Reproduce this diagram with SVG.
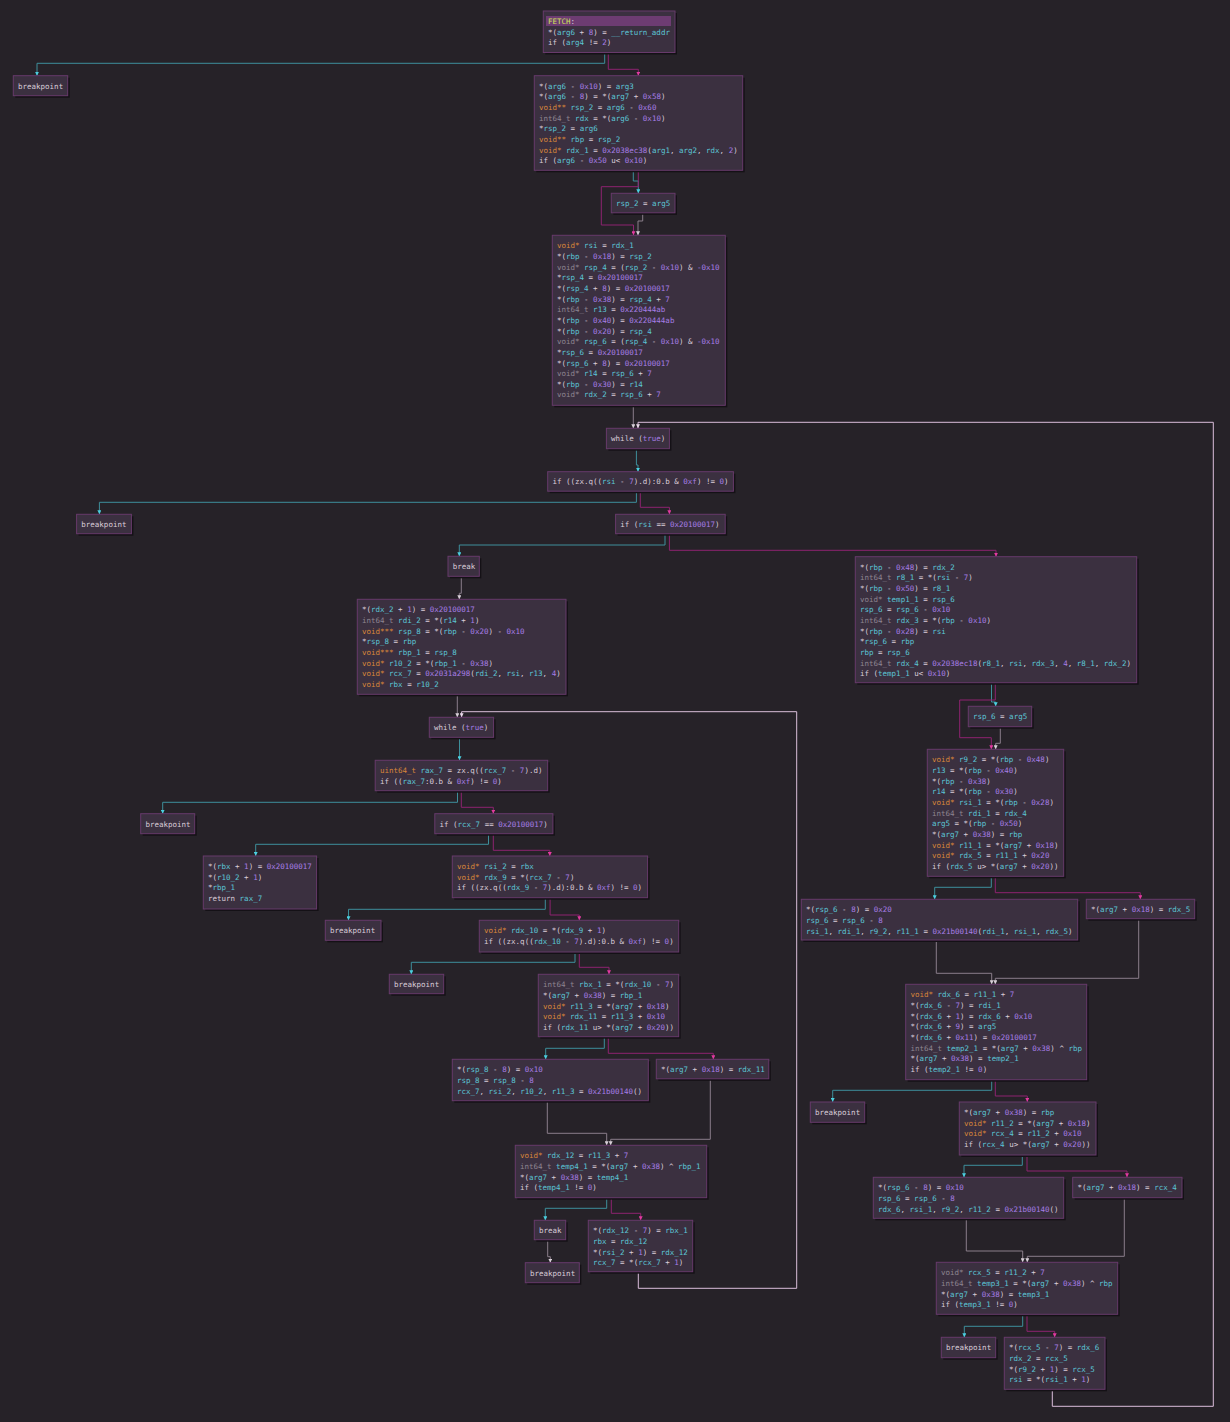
<svg xmlns="http://www.w3.org/2000/svg" width="1230" height="1422" viewBox="0 0 1230 1422">
<defs>
<style>
text{font-family:"DejaVu Sans Mono","Liberation Mono",monospace;font-size:7.5px;fill:#dacdd8;white-space:pre}
.v{fill:#5cc6d6}.n{fill:#a77ee6}.t{fill:#d8863a}.g{fill:#8d8590}.k{fill:#cfe05a}
.bx{fill:#3b3040;stroke:#673a6b;stroke-width:1}
.sh{fill:#141116}
.hd{fill:#6d3c72}
.ec,.em,.eg,.eb{fill:none;stroke-width:1}
.ec{stroke:#3e8f9b;marker-end:url(#ac)}
.em{stroke:#8e2370;marker-end:url(#am)}
.eg{stroke:#8a7e8a;marker-end:url(#ag)}
.eb{stroke:#dbbfdb;marker-end:url(#ab)}
</style>
<marker id="ac" markerUnits="userSpaceOnUse" markerWidth="4" markerHeight="4" viewBox="0 0 4 4" refX="4" refY="2" orient="auto"><path d="M0,0L4,2L0,4z" fill="#4bd0e0"/></marker>
<marker id="am" markerUnits="userSpaceOnUse" markerWidth="4" markerHeight="4" viewBox="0 0 4 4" refX="4" refY="2" orient="auto"><path d="M0,0L4,2L0,4z" fill="#e23aa0"/></marker>
<marker id="ag" markerUnits="userSpaceOnUse" markerWidth="4" markerHeight="4" viewBox="0 0 4 4" refX="4" refY="2" orient="auto"><path d="M0,0L4,2L0,4z" fill="#d8d0d8"/></marker>
<marker id="ab" markerUnits="userSpaceOnUse" markerWidth="4" markerHeight="4" viewBox="0 0 4 4" refX="4" refY="2" orient="auto"><path d="M0,0L4,2L0,4z" fill="#eadaea"/></marker>
</defs>
<rect width="1230" height="1422" fill="#262228"/>

<!-- control-flow edges -->
<g id="edges">
<polyline class="ec" points="604.7,52 604.7,63.3 37,63.3 37,75.7"/>
<polyline class="em" points="608.3,52 608.3,69.3 638.3,69.3 638.3,75.7"/>
<polyline class="ec" points="633.3,170.3 633.3,181 638.3,181 638.3,193.3"/>
<polyline class="em" points="638.3,170.3 638.3,186.7 601.3,186.7 601.3,225 633.5,225 633.5,235.3"/>
<polyline class="eg" points="642.7,212.8 642.7,221 638,221 638,235.3"/>
<polyline class="eg" points="633.3,405.3 633.3,428.3"/>
<polyline class="eb" points="1052.3,1389.3 1052.3,1406.3 1213.3,1406.3 1213.3,422.3 638,422.3 638,428.3"/>
<polyline class="ec" points="636.4,448.7 636.4,465 638,465 638,471.7"/>
<polyline class="ec" points="636.4,490.7 636.4,502.3 99.4,502.3 99.4,514.3"/>
<polyline class="em" points="640.3,490.7 640.3,507.3 669.4,507.3 669.4,514.3"/>
<polyline class="ec" points="665,533.7 665,545 459.3,545 459.3,556.3"/>
<polyline class="em" points="669.4,533.7 669.4,550.3 996,550.3 996,556.7"/>
<polyline class="eg" points="461.3,576.3 461.3,593.3 459.3,593.3 459.3,599.3"/>
<polyline class="ec" points="991.5,682.7 991.5,702 995.7,702 995.7,706.3"/>
<polyline class="em" points="995.3,682.7 995.3,700 959.7,700 959.7,737.7 991.3,737.7 991.3,749.3"/>
<polyline class="eg" points="1000.3,726.7 1000.3,743.3 995.7,743.3 995.7,749.3"/>
<polyline class="eg" points="457.3,694.3 457.3,717.3"/>
<polyline class="eb" points="638.3,1271.7 638.3,1288.3 796.7,1288.3 796.7,711.7 461.6,711.7 461.6,717.3"/>
<polyline class="ec" points="459.5,737.3 459.5,760.3"/>
<polyline class="ec" points="457.5,790.7 457.5,802.3 162.7,802.3 162.7,813.7"/>
<polyline class="em" points="461.3,790.7 461.3,807.3 493.3,807.3 493.3,813.7"/>
<polyline class="ec" points="488.5,833.7 488.5,844.3 255.7,844.3 255.7,856"/>
<polyline class="em" points="493.3,833.7 493.3,850.3 549.8,850.3 549.8,856"/>
<polyline class="ec" points="545.3,897.7 545.3,909.3 348.5,909.3 348.5,920.3"/>
<polyline class="em" points="550.1,897.7 550.1,915 579.3,915 579.3,920.3"/>
<polyline class="ec" points="575,952 575,962.3 411.3,962.3 411.3,974.3"/>
<polyline class="em" points="579.3,952 579.3,967.3 609,967.3 609,974.3"/>
<polyline class="ec" points="604.3,1036.7 604.3,1048.3 545.7,1048.3 545.7,1059.3"/>
<polyline class="em" points="608.3,1036.7 608.3,1053.3 713.3,1053.3 713.3,1059.3"/>
<polyline class="eg" points="547.3,1100.7 547.3,1133.3 606.7,1133.3 606.7,1145.3"/>
<polyline class="eg" points="710.3,1078.8 710.3,1139.3 610.7,1139.3 610.7,1145.3"/>
<polyline class="ec" points="606.7,1197.7 606.7,1208.3 545.3,1208.3 545.3,1220.3"/>
<polyline class="em" points="611.3,1197.7 611.3,1213.3 640.7,1213.3 640.7,1220.3"/>
<polyline class="eg" points="547.7,1239.7 547.7,1256.7 550.3,1256.7 550.3,1262.7"/>
<polyline class="ec" points="991.3,876.3 991.3,887.3 934.7,887.3 934.7,899.3"/>
<polyline class="em" points="995.3,876.3 995.3,892.7 1140.3,892.7 1140.3,899.3"/>
<polyline class="eg" points="936.3,940 936.3,973.3 991.7,973.3 991.7,984.3"/>
<polyline class="eg" points="1138.7,918.7 1138.7,978.3 995.3,978.3 995.3,984.3"/>
<polyline class="ec" points="991.7,1079.7 991.7,1090.3 832.7,1090.3 832.7,1102"/>
<polyline class="em" points="995.3,1079.7 995.3,1096 1027.3,1096 1027.3,1102"/>
<polyline class="ec" points="1022.3,1155 1022.3,1165.3 964,1165.3 964,1177.3"/>
<polyline class="em" points="1027,1155 1027,1171 1127,1171 1127,1177.3"/>
<polyline class="eg" points="966.3,1218.3 966.3,1251 1022.7,1251 1022.7,1262.3"/>
<polyline class="eg" points="1124.3,1197.7 1124.3,1256.3 1027.3,1256.3 1027.3,1262.3"/>
<polyline class="ec" points="1022.7,1314.3 1022.7,1326.3 964.3,1326.3 964.3,1337.3"/>
<polyline class="em" points="1027,1314.3 1027,1331.3 1054.7,1331.3 1054.7,1337.3"/>
</g>

<!-- basic blocks -->
<g id="n-fetch" transform="translate(543.3,11)">
<rect class="sh" x="2" y="2" width="131.7" height="41.5"/><rect class="bx" width="131.7" height="41.5"/>
<rect class="hd" x="2.7" y="5" width="125" height="10"/>
<text x="4.7" y="13.1"><tspan class="k">FETCH</tspan>:</text>
<text x="4.7" y="23.75">*(<tspan class="v">arg6</tspan> + <tspan class="n">8</tspan>) = <tspan class="v">__return_addr</tspan></text>
<text x="4.7" y="34.4">if (<tspan class="v">arg4</tspan> != <tspan class="n">2</tspan>)</text>
</g>

<g id="n-bp0" transform="translate(13.3,75.7)">
<rect class="sh" x="2" y="2" width="54.4" height="20"/><rect class="bx" width="54.4" height="20"/>
<text x="4.7" y="13.1">breakpoint</text>
</g>

<g id="n-entry" transform="translate(534.3,75.7)">
<rect class="sh" x="2" y="2" width="208.4" height="94.6"/><rect class="bx" width="208.4" height="94.6"/>
<text x="4.7" y="13.1">*(<tspan class="v">arg6</tspan> - <tspan class="n">0x10</tspan>) = <tspan class="v">arg3</tspan></text>
<text x="4.7" y="23.75">*(<tspan class="v">arg6</tspan> - <tspan class="n">8</tspan>) = *(<tspan class="v">arg7</tspan> + <tspan class="n">0x58</tspan>)</text>
<text x="4.7" y="34.4"><tspan class="t">void**</tspan> <tspan class="v">rsp_2</tspan> = <tspan class="v">arg6</tspan> - <tspan class="n">0x60</tspan></text>
<text x="4.7" y="45.05"><tspan class="g">int64_t</tspan> <tspan class="v">rdx</tspan> = *(<tspan class="v">arg6</tspan> - <tspan class="n">0x10</tspan>)</text>
<text x="4.7" y="55.7">*<tspan class="v">rsp_2</tspan> = <tspan class="v">arg6</tspan></text>
<text x="4.7" y="66.35"><tspan class="t">void**</tspan> <tspan class="v">rbp</tspan> = <tspan class="v">rsp_2</tspan></text>
<text x="4.7" y="77"><tspan class="t">void*</tspan> <tspan class="v">rdx_1</tspan> = <tspan class="n">0x2038ec38</tspan>(<tspan class="v">arg1</tspan>, <tspan class="v">arg2</tspan>, <tspan class="v">rdx</tspan>, <tspan class="n">2</tspan>)</text>
<text x="4.7" y="87.65">if (<tspan class="v">arg6</tspan> - <tspan class="n">0x50</tspan> u&lt; <tspan class="n">0x10</tspan>)</text>
</g>

<g id="n-rsp2" transform="translate(611.3,193.3)">
<rect class="sh" x="2" y="2" width="63.7" height="19.5"/><rect class="bx" width="63.7" height="19.5"/>
<text x="4.7" y="13.1"><tspan class="v">rsp_2</tspan> = <tspan class="v">arg5</tspan></text>
</g>

<g id="n-setup" transform="translate(552.3,235.3)">
<rect class="sh" x="2" y="2" width="173" height="170"/><rect class="bx" width="173" height="170"/>
<text x="4.7" y="13.1"><tspan class="t">void*</tspan> <tspan class="v">rsi</tspan> = <tspan class="v">rdx_1</tspan></text>
<text x="4.7" y="23.75">*(<tspan class="v">rbp</tspan> - <tspan class="n">0x18</tspan>) = <tspan class="v">rsp_2</tspan></text>
<text x="4.7" y="34.4"><tspan class="g">void*</tspan> <tspan class="v">rsp_4</tspan> = (<tspan class="v">rsp_2</tspan> - <tspan class="n">0x10</tspan>) &amp; <tspan class="n">-0x10</tspan></text>
<text x="4.7" y="45.05">*<tspan class="v">rsp_4</tspan> = <tspan class="n">0x20100017</tspan></text>
<text x="4.7" y="55.7">*(<tspan class="v">rsp_4</tspan> + <tspan class="n">8</tspan>) = <tspan class="n">0x20100017</tspan></text>
<text x="4.7" y="66.35">*(<tspan class="v">rbp</tspan> - <tspan class="n">0x38</tspan>) = <tspan class="v">rsp_4</tspan> + <tspan class="n">7</tspan></text>
<text x="4.7" y="77"><tspan class="g">int64_t</tspan> <tspan class="v">r13</tspan> = <tspan class="n">0x220444ab</tspan></text>
<text x="4.7" y="87.65">*(<tspan class="v">rbp</tspan> - <tspan class="n">0x40</tspan>) = <tspan class="n">0x220444ab</tspan></text>
<text x="4.7" y="98.3">*(<tspan class="v">rbp</tspan> - <tspan class="n">0x20</tspan>) = <tspan class="v">rsp_4</tspan></text>
<text x="4.7" y="108.95"><tspan class="g">void*</tspan> <tspan class="v">rsp_6</tspan> = (<tspan class="v">rsp_4</tspan> - <tspan class="n">0x10</tspan>) &amp; <tspan class="n">-0x10</tspan></text>
<text x="4.7" y="119.6">*<tspan class="v">rsp_6</tspan> = <tspan class="n">0x20100017</tspan></text>
<text x="4.7" y="130.25">*(<tspan class="v">rsp_6</tspan> + <tspan class="n">8</tspan>) = <tspan class="n">0x20100017</tspan></text>
<text x="4.7" y="140.9"><tspan class="g">void*</tspan> <tspan class="v">r14</tspan> = <tspan class="v">rsp_6</tspan> + <tspan class="n">7</tspan></text>
<text x="4.7" y="151.55">*(<tspan class="v">rbp</tspan> - <tspan class="n">0x30</tspan>) = <tspan class="v">r14</tspan></text>
<text x="4.7" y="162.2"><tspan class="g">void*</tspan> <tspan class="v">rdx_2</tspan> = <tspan class="v">rsp_6</tspan> + <tspan class="n">7</tspan></text>
</g>

<g id="n-while1" transform="translate(606.4,428.3)">
<rect class="sh" x="2" y="2" width="63" height="20.4"/><rect class="bx" width="63" height="20.4"/>
<text x="4.7" y="13.1">while (<tspan class="n">true</tspan>)</text>
</g>

<g id="n-chk1" transform="translate(547.7,471.7)">
<rect class="sh" x="2" y="2" width="185.7" height="19.5"/><rect class="bx" width="185.7" height="19.5"/>
<text x="4.7" y="12.6">if ((zx.q((<tspan class="v">rsi</tspan> - <tspan class="n">7</tspan>).d):0.b &amp; <tspan class="n">0xf</tspan>) != <tspan class="n">0</tspan>)</text>
</g>

<g id="n-bp1" transform="translate(76.6,514.3)">
<rect class="sh" x="2" y="2" width="54.8" height="19.4"/><rect class="bx" width="54.8" height="19.4"/>
<text x="4.7" y="12.9">breakpoint</text>
</g>

<g id="n-chk2" transform="translate(615.6,514.3)">
<rect class="sh" x="2" y="2" width="109.6" height="19.4"/><rect class="bx" width="109.6" height="19.4"/>
<text x="4.7" y="12.9">if (<tspan class="v">rsi</tspan> == <tspan class="n">0x20100017</tspan>)</text>
</g>

<g id="n-break1" transform="translate(448,556.3)">
<rect class="sh" x="2" y="2" width="31.3" height="20"/><rect class="bx" width="31.3" height="20"/>
<text x="4.7" y="13.1">break</text>
</g>

<g id="n-grow" transform="translate(855.3,556.7)">
<rect class="sh" x="2" y="2" width="281.4" height="126"/><rect class="bx" width="281.4" height="126"/>
<text x="4.7" y="13.1">*(<tspan class="v">rbp</tspan> - <tspan class="n">0x48</tspan>) = <tspan class="v">rdx_2</tspan></text>
<text x="4.7" y="23.75"><tspan class="g">int64_t</tspan> <tspan class="v">r8_1</tspan> = *(<tspan class="v">rsi</tspan> - <tspan class="n">7</tspan>)</text>
<text x="4.7" y="34.4">*(<tspan class="v">rbp</tspan> - <tspan class="n">0x50</tspan>) = <tspan class="v">r8_1</tspan></text>
<text x="4.7" y="45.05"><tspan class="g">void*</tspan> <tspan class="v">temp1_1</tspan> = <tspan class="v">rsp_6</tspan></text>
<text x="4.7" y="55.7"><tspan class="v">rsp_6</tspan> = <tspan class="v">rsp_6</tspan> - <tspan class="n">0x10</tspan></text>
<text x="4.7" y="66.35"><tspan class="g">int64_t</tspan> <tspan class="v">rdx_3</tspan> = *(<tspan class="v">rbp</tspan> - <tspan class="n">0x10</tspan>)</text>
<text x="4.7" y="77">*(<tspan class="v">rbp</tspan> - <tspan class="n">0x28</tspan>) = <tspan class="v">rsi</tspan></text>
<text x="4.7" y="87.65">*<tspan class="v">rsp_6</tspan> = <tspan class="v">rbp</tspan></text>
<text x="4.7" y="98.3"><tspan class="v">rbp</tspan> = <tspan class="v">rsp_6</tspan></text>
<text x="4.7" y="108.95"><tspan class="g">int64_t</tspan> <tspan class="v">rdx_4</tspan> = <tspan class="n">0x2038ec18</tspan>(<tspan class="v">r8_1</tspan>, <tspan class="v">rsi</tspan>, <tspan class="v">rdx_3</tspan>, <tspan class="n">4</tspan>, <tspan class="v">r8_1</tspan>, <tspan class="v">rdx_2</tspan>)</text>
<text x="4.7" y="119.6">if (<tspan class="v">temp1_1</tspan> u&lt; <tspan class="n">0x10</tspan>)</text>
</g>

<g id="n-found" transform="translate(357.3,599.3)">
<rect class="sh" x="2" y="2" width="208.7" height="95"/><rect class="bx" width="208.7" height="95"/>
<text x="4.7" y="13.1">*(<tspan class="v">rdx_2</tspan> + <tspan class="n">1</tspan>) = <tspan class="n">0x20100017</tspan></text>
<text x="4.7" y="23.75"><tspan class="g">int64_t</tspan> <tspan class="v">rdi_2</tspan> = *(<tspan class="v">r14</tspan> + <tspan class="n">1</tspan>)</text>
<text x="4.7" y="34.4"><tspan class="t">void***</tspan> <tspan class="v">rsp_8</tspan> = *(<tspan class="v">rbp</tspan> - <tspan class="n">0x20</tspan>) - <tspan class="n">0x10</tspan></text>
<text x="4.7" y="45.05">*<tspan class="v">rsp_8</tspan> = <tspan class="v">rbp</tspan></text>
<text x="4.7" y="55.7"><tspan class="t">void***</tspan> <tspan class="v">rbp_1</tspan> = <tspan class="v">rsp_8</tspan></text>
<text x="4.7" y="66.35"><tspan class="t">void*</tspan> <tspan class="v">r10_2</tspan> = *(<tspan class="v">rbp_1</tspan> - <tspan class="n">0x38</tspan>)</text>
<text x="4.7" y="77"><tspan class="t">void*</tspan> <tspan class="v">rcx_7</tspan> = <tspan class="n">0x2031a298</tspan>(<tspan class="v">rdi_2</tspan>, <tspan class="v">rsi</tspan>, <tspan class="v">r13</tspan>, <tspan class="n">4</tspan>)</text>
<text x="4.7" y="87.65"><tspan class="t">void*</tspan> <tspan class="v">rbx</tspan> = <tspan class="v">r10_2</tspan></text>
</g>

<g id="n-rsp6" transform="translate(968.3,706.3)">
<rect class="sh" x="2" y="2" width="63.4" height="20.4"/><rect class="bx" width="63.4" height="20.4"/>
<text x="4.7" y="13.1"><tspan class="v">rsp_6</tspan> = <tspan class="v">arg5</tspan></text>
</g>

<g id="n-while2" transform="translate(429.3,717.3)">
<rect class="sh" x="2" y="2" width="64.3" height="20"/><rect class="bx" width="64.3" height="20"/>
<text x="4.7" y="13.1">while (<tspan class="n">true</tspan>)</text>
</g>

<g id="n-restore" transform="translate(927.3,749.3)">
<rect class="sh" x="2" y="2" width="136.4" height="127"/><rect class="bx" width="136.4" height="127"/>
<text x="4.7" y="13.1"><tspan class="t">void*</tspan> <tspan class="v">r9_2</tspan> = *(<tspan class="v">rbp</tspan> - <tspan class="n">0x48</tspan>)</text>
<text x="4.7" y="23.75"><tspan class="v">r13</tspan> = *(<tspan class="v">rbp</tspan> - <tspan class="n">0x40</tspan>)</text>
<text x="4.7" y="34.4">*(<tspan class="v">rbp</tspan> - <tspan class="n">0x38</tspan>)</text>
<text x="4.7" y="45.05"><tspan class="v">r14</tspan> = *(<tspan class="v">rbp</tspan> - <tspan class="n">0x30</tspan>)</text>
<text x="4.7" y="55.7"><tspan class="t">void*</tspan> <tspan class="v">rsi_1</tspan> = *(<tspan class="v">rbp</tspan> - <tspan class="n">0x28</tspan>)</text>
<text x="4.7" y="66.35"><tspan class="g">int64_t</tspan> <tspan class="v">rdi_1</tspan> = <tspan class="v">rdx_4</tspan></text>
<text x="4.7" y="77"><tspan class="v">arg5</tspan> = *(<tspan class="v">rbp</tspan> - <tspan class="n">0x50</tspan>)</text>
<text x="4.7" y="87.65">*(<tspan class="v">arg7</tspan> + <tspan class="n">0x38</tspan>) = <tspan class="v">rbp</tspan></text>
<text x="4.7" y="98.3"><tspan class="t">void*</tspan> <tspan class="v">r11_1</tspan> = *(<tspan class="v">arg7</tspan> + <tspan class="n">0x18</tspan>)</text>
<text x="4.7" y="108.95"><tspan class="t">void*</tspan> <tspan class="v">rdx_5</tspan> = <tspan class="v">r11_1</tspan> + <tspan class="n">0x20</tspan></text>
<text x="4.7" y="119.6">if (<tspan class="v">rdx_5</tspan> u&gt; *(<tspan class="v">arg7</tspan> + <tspan class="n">0x20</tspan>))</text>
</g>

<g id="n-rax7" transform="translate(375.2,760.3)">
<rect class="sh" x="2" y="2" width="172.5" height="30.4"/><rect class="bx" width="172.5" height="30.4"/>
<text x="4.7" y="13.1"><tspan class="t">uint64_t</tspan> <tspan class="v">rax_7</tspan> = zx.q((<tspan class="v">rcx_7</tspan> - <tspan class="n">7</tspan>).d)</text>
<text x="4.7" y="23.75">if ((<tspan class="v">rax_7</tspan>:0.b &amp; <tspan class="n">0xf</tspan>) != <tspan class="n">0</tspan>)</text>
</g>

<g id="n-bp2" transform="translate(140.7,813.7)">
<rect class="sh" x="2" y="2" width="54" height="20"/><rect class="bx" width="54" height="20"/>
<text x="4.7" y="13.1">breakpoint</text>
</g>

<g id="n-chk3" transform="translate(434.8,813.7)">
<rect class="sh" x="2" y="2" width="118.1" height="20"/><rect class="bx" width="118.1" height="20"/>
<text x="4.7" y="13.1">if (<tspan class="v">rcx_7</tspan> == <tspan class="n">0x20100017</tspan>)</text>
</g>

<g id="n-ret" transform="translate(203.3,856)">
<rect class="sh" x="2" y="2" width="113.3" height="53"/><rect class="bx" width="113.3" height="53"/>
<text x="4.7" y="13.1">*(<tspan class="v">rbx</tspan> + <tspan class="n">1</tspan>) = <tspan class="n">0x20100017</tspan></text>
<text x="4.7" y="23.75">*(<tspan class="v">r10_2</tspan> + <tspan class="n">1</tspan>)</text>
<text x="4.7" y="34.4">*<tspan class="v">rbp_1</tspan></text>
<text x="4.7" y="45.05">return <tspan class="v">rax_7</tspan></text>
</g>

<g id="n-rsi2" transform="translate(452.3,856)">
<rect class="sh" x="2" y="2" width="195.3" height="41.7"/><rect class="bx" width="195.3" height="41.7"/>
<text x="4.7" y="13.1"><tspan class="t">void*</tspan> <tspan class="v">rsi_2</tspan> = <tspan class="v">rbx</tspan></text>
<text x="4.7" y="23.75"><tspan class="t">void*</tspan> <tspan class="v">rdx_9</tspan> = *(<tspan class="v">rcx_7</tspan> - <tspan class="n">7</tspan>)</text>
<text x="4.7" y="34.4">if ((zx.q((<tspan class="v">rdx_9</tspan> - <tspan class="n">7</tspan>).d):0.b &amp; <tspan class="n">0xf</tspan>) != <tspan class="n">0</tspan>)</text>
</g>

<g id="n-call20" transform="translate(801.3,899.3)">
<rect class="sh" x="2" y="2" width="276.4" height="40.7"/><rect class="bx" width="276.4" height="40.7"/>
<text x="4.7" y="13.1">*(<tspan class="v">rsp_6</tspan> - <tspan class="n">8</tspan>) = <tspan class="n">0x20</tspan></text>
<text x="4.7" y="23.75"><tspan class="v">rsp_6</tspan> = <tspan class="v">rsp_6</tspan> - <tspan class="n">8</tspan></text>
<text x="4.7" y="34.4"><tspan class="v">rsi_1</tspan>, <tspan class="v">rdi_1</tspan>, <tspan class="v">r9_2</tspan>, <tspan class="v">r11_1</tspan> = <tspan class="n">0x21b00140</tspan>(<tspan class="v">rdi_1</tspan>, <tspan class="v">rsi_1</tspan>, <tspan class="v">rdx_5</tspan>)</text>
</g>

<g id="n-st5" transform="translate(1086.3,899.3)">
<rect class="sh" x="2" y="2" width="108.4" height="19.4"/><rect class="bx" width="108.4" height="19.4"/>
<text x="4.7" y="12.9">*(<tspan class="v">arg7</tspan> + <tspan class="n">0x18</tspan>) = <tspan class="v">rdx_5</tspan></text>
</g>

<g id="n-bp3" transform="translate(325.3,920.3)">
<rect class="sh" x="2" y="2" width="55.7" height="20"/><rect class="bx" width="55.7" height="20"/>
<text x="4.7" y="13.1">breakpoint</text>
</g>

<g id="n-rdx10" transform="translate(479.3,920.3)">
<rect class="sh" x="2" y="2" width="199.4" height="31.7"/><rect class="bx" width="199.4" height="31.7"/>
<text x="4.7" y="13.1"><tspan class="t">void*</tspan> <tspan class="v">rdx_10</tspan> = *(<tspan class="v">rdx_9</tspan> + <tspan class="n">1</tspan>)</text>
<text x="4.7" y="23.75">if ((zx.q((<tspan class="v">rdx_10</tspan> - <tspan class="n">7</tspan>).d):0.b &amp; <tspan class="n">0xf</tspan>) != <tspan class="n">0</tspan>)</text>
</g>

<g id="n-bp4" transform="translate(389.3,974.3)">
<rect class="sh" x="2" y="2" width="54.4" height="19.4"/><rect class="bx" width="54.4" height="19.4"/>
<text x="4.7" y="12.9">breakpoint</text>
</g>

<g id="n-rbx1" transform="translate(538.3,974.3)">
<rect class="sh" x="2" y="2" width="140.4" height="62.4"/><rect class="bx" width="140.4" height="62.4"/>
<text x="4.7" y="13.1"><tspan class="g">int64_t</tspan> <tspan class="v">rbx_1</tspan> = *(<tspan class="v">rdx_10</tspan> - <tspan class="n">7</tspan>)</text>
<text x="4.7" y="23.75">*(<tspan class="v">arg7</tspan> + <tspan class="n">0x38</tspan>) = <tspan class="v">rbp_1</tspan></text>
<text x="4.7" y="34.4"><tspan class="t">void*</tspan> <tspan class="v">r11_3</tspan> = *(<tspan class="v">arg7</tspan> + <tspan class="n">0x18</tspan>)</text>
<text x="4.7" y="45.05"><tspan class="t">void*</tspan> <tspan class="v">rdx_11</tspan> = <tspan class="v">r11_3</tspan> + <tspan class="n">0x10</tspan></text>
<text x="4.7" y="55.7">if (<tspan class="v">rdx_11</tspan> u&gt; *(<tspan class="v">arg7</tspan> + <tspan class="n">0x20</tspan>))</text>
</g>

<g id="n-rdx6" transform="translate(905.7,984.3)">
<rect class="sh" x="2" y="2" width="181" height="95.4"/><rect class="bx" width="181" height="95.4"/>
<text x="4.7" y="13.1"><tspan class="t">void*</tspan> <tspan class="v">rdx_6</tspan> = <tspan class="v">r11_1</tspan> + <tspan class="n">7</tspan></text>
<text x="4.7" y="23.75">*(<tspan class="v">rdx_6</tspan> - <tspan class="n">7</tspan>) = <tspan class="v">rdi_1</tspan></text>
<text x="4.7" y="34.4">*(<tspan class="v">rdx_6</tspan> + <tspan class="n">1</tspan>) = <tspan class="v">rdx_6</tspan> + <tspan class="n">0x10</tspan></text>
<text x="4.7" y="45.05">*(<tspan class="v">rdx_6</tspan> + <tspan class="n">9</tspan>) = <tspan class="v">arg5</tspan></text>
<text x="4.7" y="55.7">*(<tspan class="v">rdx_6</tspan> + <tspan class="n">0x11</tspan>) = <tspan class="n">0x20100017</tspan></text>
<text x="4.7" y="66.35"><tspan class="g">int64_t</tspan> <tspan class="v">temp2_1</tspan> = *(<tspan class="v">arg7</tspan> + <tspan class="n">0x38</tspan>) ^ <tspan class="v">rbp</tspan></text>
<text x="4.7" y="77">*(<tspan class="v">arg7</tspan> + <tspan class="n">0x38</tspan>) = <tspan class="v">temp2_1</tspan></text>
<text x="4.7" y="87.65">if (<tspan class="v">temp2_1</tspan> != <tspan class="n">0</tspan>)</text>
</g>

<g id="n-call10a" transform="translate(452.3,1059.3)">
<rect class="sh" x="2" y="2" width="196" height="41.4"/><rect class="bx" width="196" height="41.4"/>
<text x="4.7" y="13.1">*(<tspan class="v">rsp_8</tspan> - <tspan class="n">8</tspan>) = <tspan class="n">0x10</tspan></text>
<text x="4.7" y="23.75"><tspan class="v">rsp_8</tspan> = <tspan class="v">rsp_8</tspan> - <tspan class="n">8</tspan></text>
<text x="4.7" y="34.4"><tspan class="v">rcx_7</tspan>, <tspan class="v">rsi_2</tspan>, <tspan class="v">r10_2</tspan>, <tspan class="v">r11_3</tspan> = <tspan class="n">0x21b00140</tspan>()</text>
</g>

<g id="n-st11" transform="translate(656.3,1059.3)">
<rect class="sh" x="2" y="2" width="112.5" height="19.5"/><rect class="bx" width="112.5" height="19.5"/>
<text x="4.7" y="12.9">*(<tspan class="v">arg7</tspan> + <tspan class="n">0x18</tspan>) = <tspan class="v">rdx_11</tspan></text>
</g>

<g id="n-bp5" transform="translate(810.3,1102)">
<rect class="sh" x="2" y="2" width="54.4" height="20.3"/><rect class="bx" width="54.4" height="20.3"/>
<text x="4.7" y="13.1">breakpoint</text>
</g>

<g id="n-rcx4" transform="translate(959.3,1102)">
<rect class="sh" x="2" y="2" width="136.7" height="53"/><rect class="bx" width="136.7" height="53"/>
<text x="4.7" y="13.1">*(<tspan class="v">arg7</tspan> + <tspan class="n">0x38</tspan>) = <tspan class="v">rbp</tspan></text>
<text x="4.7" y="23.75"><tspan class="t">void*</tspan> <tspan class="v">r11_2</tspan> = *(<tspan class="v">arg7</tspan> + <tspan class="n">0x18</tspan>)</text>
<text x="4.7" y="34.4"><tspan class="t">void*</tspan> <tspan class="v">rcx_4</tspan> = <tspan class="v">r11_2</tspan> + <tspan class="n">0x10</tspan></text>
<text x="4.7" y="45.05">if (<tspan class="v">rcx_4</tspan> u&gt; *(<tspan class="v">arg7</tspan> + <tspan class="n">0x20</tspan>))</text>
</g>

<g id="n-rdx12" transform="translate(515.3,1145.3)">
<rect class="sh" x="2" y="2" width="191.4" height="52.4"/><rect class="bx" width="191.4" height="52.4"/>
<text x="4.7" y="13.1"><tspan class="t">void*</tspan> <tspan class="v">rdx_12</tspan> = <tspan class="v">r11_3</tspan> + <tspan class="n">7</tspan></text>
<text x="4.7" y="23.75"><tspan class="g">int64_t</tspan> <tspan class="v">temp4_1</tspan> = *(<tspan class="v">arg7</tspan> + <tspan class="n">0x38</tspan>) ^ <tspan class="v">rbp_1</tspan></text>
<text x="4.7" y="34.4">*(<tspan class="v">arg7</tspan> + <tspan class="n">0x38</tspan>) = <tspan class="v">temp4_1</tspan></text>
<text x="4.7" y="45.05">if (<tspan class="v">temp4_1</tspan> != <tspan class="n">0</tspan>)</text>
</g>

<g id="n-call10b" transform="translate(873.3,1177.3)">
<rect class="sh" x="2" y="2" width="190.4" height="41"/><rect class="bx" width="190.4" height="41"/>
<text x="4.7" y="13.1">*(<tspan class="v">rsp_6</tspan> - <tspan class="n">8</tspan>) = <tspan class="n">0x10</tspan></text>
<text x="4.7" y="23.75"><tspan class="v">rsp_6</tspan> = <tspan class="v">rsp_6</tspan> - <tspan class="n">8</tspan></text>
<text x="4.7" y="34.4"><tspan class="v">rdx_6</tspan>, <tspan class="v">rsi_1</tspan>, <tspan class="v">r9_2</tspan>, <tspan class="v">r11_2</tspan> = <tspan class="n">0x21b00140</tspan>()</text>
</g>

<g id="n-st4" transform="translate(1072.7,1177.3)">
<rect class="sh" x="2" y="2" width="109.3" height="20.4"/><rect class="bx" width="109.3" height="20.4"/>
<text x="4.7" y="13.1">*(<tspan class="v">arg7</tspan> + <tspan class="n">0x18</tspan>) = <tspan class="v">rcx_4</tspan></text>
</g>

<g id="n-break2" transform="translate(534.3,1220.3)">
<rect class="sh" x="2" y="2" width="31.4" height="19.4"/><rect class="bx" width="31.4" height="19.4"/>
<text x="4.7" y="12.9">break</text>
</g>

<g id="n-link1" transform="translate(588.3,1220.3)">
<rect class="sh" x="2" y="2" width="104.4" height="51.4"/><rect class="bx" width="104.4" height="51.4"/>
<text x="4.7" y="13.1">*(<tspan class="v">rdx_12</tspan> - <tspan class="n">7</tspan>) = <tspan class="v">rbx_1</tspan></text>
<text x="4.7" y="23.75"><tspan class="v">rbx</tspan> = <tspan class="v">rdx_12</tspan></text>
<text x="4.7" y="34.4">*(<tspan class="v">rsi_2</tspan> + <tspan class="n">1</tspan>) = <tspan class="v">rdx_12</tspan></text>
<text x="4.7" y="45.05"><tspan class="v">rcx_7</tspan> = *(<tspan class="v">rcx_7</tspan> + <tspan class="n">1</tspan>)</text>
</g>

<g id="n-rcx5" transform="translate(936.3,1262.3)">
<rect class="sh" x="2" y="2" width="181.4" height="52"/><rect class="bx" width="181.4" height="52"/>
<text x="4.7" y="13.1"><tspan class="g">void*</tspan> <tspan class="v">rcx_5</tspan> = <tspan class="v">r11_2</tspan> + <tspan class="n">7</tspan></text>
<text x="4.7" y="23.75"><tspan class="g">int64_t</tspan> <tspan class="v">temp3_1</tspan> = *(<tspan class="v">arg7</tspan> + <tspan class="n">0x38</tspan>) ^ <tspan class="v">rbp</tspan></text>
<text x="4.7" y="34.4">*(<tspan class="v">arg7</tspan> + <tspan class="n">0x38</tspan>) = <tspan class="v">temp3_1</tspan></text>
<text x="4.7" y="45.05">if (<tspan class="v">temp3_1</tspan> != <tspan class="n">0</tspan>)</text>
</g>

<g id="n-bp6" transform="translate(525.3,1262.7)">
<rect class="sh" x="2" y="2" width="54" height="20"/><rect class="bx" width="54" height="20"/>
<text x="4.7" y="13.1">breakpoint</text>
</g>

<g id="n-bp7" transform="translate(941.3,1337.3)">
<rect class="sh" x="2" y="2" width="54.4" height="20.4"/><rect class="bx" width="54.4" height="20.4"/>
<text x="4.7" y="13.1">breakpoint</text>
</g>

<g id="n-link2" transform="translate(1004.3,1337.3)">
<rect class="sh" x="2" y="2" width="100.7" height="52"/><rect class="bx" width="100.7" height="52"/>
<text x="4.7" y="13.1">*(<tspan class="v">rcx_5</tspan> - <tspan class="n">7</tspan>) = <tspan class="v">rdx_6</tspan></text>
<text x="4.7" y="23.75"><tspan class="v">rdx_2</tspan> = <tspan class="v">rcx_5</tspan></text>
<text x="4.7" y="34.4">*(<tspan class="v">r9_2</tspan> + <tspan class="n">1</tspan>) = <tspan class="v">rcx_5</tspan></text>
<text x="4.7" y="45.05"><tspan class="v">rsi</tspan> = *(<tspan class="v">rsi_1</tspan> + <tspan class="n">1</tspan>)</text>
</g>
</svg>
